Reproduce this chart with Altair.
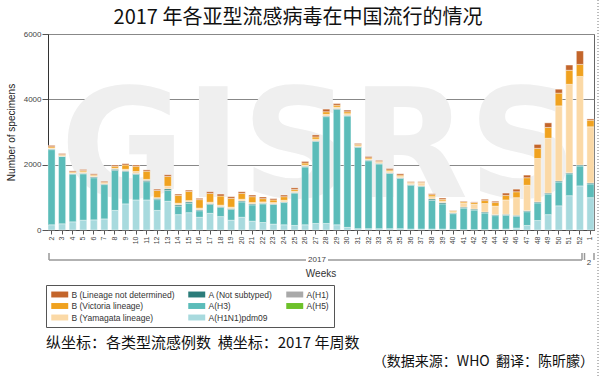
import altair as alt
import pandas as pd

weeks = ["2", "3", "4", "5", "6", "7", "8", "9", "10", "11", "12", "13", "14", "15",
         "16", "17", "18", "19", "20", "21", "22", "23", "24", "25", "26", "27", "28",
         "29", "30", "31", "32", "33", "34", "35", "36", "37", "38", "39", "40", "41",
         "42", "43", "44", "45", "46", "47", "48", "49", "50", "51", "52", "1"]

pdm09 = [160, 190, 250, 300, 310, 340, 600, 800, 920, 920, 600, 880, 470, 530,
         390, 510, 410, 300, 390, 270, 230, 180, 160, 140, 160, 200, 200,
         160, 80, 40, 40, 40, 40, 40, 30, 30, 30, 30, 20, 10,
         10, 10, 20, 30, 60, 140, 290, 470, 740, 1050, 1350, 990]
h3 = [2300, 2060, 1460, 1420, 1290, 1050, 1220, 990, 780, 560, 330, 330, 260, 290,
      200, 270, 280, 330, 470, 500, 570, 600, 680, 990, 1770, 2510, 3270,
      3530, 3410, 2490, 2080, 1980, 1690, 1540, 1340, 1300, 880, 770, 480, 660,
      600, 510, 420, 420, 360, 420, 540, 630, 730, 670, 610, 420]
a_notsub = [20, 10, 20, 20, 30, 20, 40, 30, 30, 40, 40, 50, 40, 40,
            30, 30, 30, 30, 30, 30, 20, 20, 20, 20, 20, 20, 20,
            30, 20, 20, 20, 20, 20, 20, 20, 20, 40, 40, 20, 30,
            30, 30, 30, 30, 30, 30, 30, 30, 30, 30, 30, 30]
b_yam = [30, 20, 20, 40, 30, 20, 30, 40, 60, 30, 20, 80, 50, 40,
         50, 40, 40, 40, 50, 40, 40, 40, 50, 40, 40, 50, 50,
         40, 50, 30, 30, 30, 50, 40, 40, 80, 70, 50, 40, 120,
         150, 260, 260, 440, 540, 780, 1330, 1680, 2300, 2710, 2710, 1720]
b_vic = [40, 30, 30, 40, 30, 30, 60, 130, 160, 250, 220, 300, 240, 280,
         260, 270, 280, 270, 180, 180, 100, 80, 110, 50, 60, 70, 80,
         60, 60, 40, 40, 30, 40, 40, 30, 30, 60, 50, 30, 40,
         50, 90, 110, 140, 180, 230, 310, 330, 390, 430, 370, 200]
b_undet = [40, 30, 30, 30, 30, 30, 40, 40, 40, 40, 40, 50, 40, 40,
           40, 50, 60, 50, 50, 50, 50, 40, 50, 50, 50, 60, 80,
           50, 50, 30, 40, 30, 40, 40, 20, 20, 30, 40, 10, 20,
           20, 40, 40, 70, 80, 80, 120, 140, 120, 160, 410, 40]

series = [
    ("A(H1N1)pdm09", pdm09),
    ("A(H3)", h3),
    ("A (Not subtyped)", a_notsub),
    ("B (Yamagata lineage)", b_yam),
    ("B (Victoria lineage)", b_vic),
    ("B (Lineage not determined)", b_undet),
]

rows = []
for k, (name, vals) in enumerate(series):
    for w, v in zip(weeks, vals):
        rows.append({"week": w, "type": name, "count": v, "k": k})
df = pd.DataFrame(rows)

legend_domain = ["B (Lineage not determined)", "B (Victoria lineage)", "B (Yamagata lineage)",
                 "A (Not subtyped)", "A(H3)", "A(H1N1)pdm09",
                 "A(H1)", "A(H5)"]
legend_range = ["#c3652b", "#f0a21f", "#fbd9a6",
                "#2b7c7a", "#5bbcb9", "#a8dade",
                "#a9a9a9", "#6dc12a"]

LAT = "Liberation Sans"
CJK = "Noto Sans CJK SC"
NB = "\u00a0"
dummy = pd.DataFrame({"a": [0]})


def txt(s, x, y, size, font, align="center", color="#222", weight="normal"):
    return alt.Chart(dummy).mark_text(
        text=s, align=align, baseline="middle", fontSize=size, font=font,
        color=color, fontWeight=weight
    ).encode(x=alt.value(x), y=alt.value(y))


def rule(x1, x2, y1, y2, color="#999", width=1.5, dash=None):
    kw = dict(color=color, strokeWidth=width)
    if dash:
        kw["strokeDash"] = dash
    return alt.Chart(dummy).mark_rule(**kw).encode(
        x=alt.value(x1), x2=alt.value(x2), y=alt.value(y1), y2=alt.value(y2))


watermark = alt.Chart(dummy).mark_text(
    text="GISRS", align="center", baseline="alphabetic", fontSize=152,
    font="DejaVu Sans", fontWeight="bold", color="#efefef"
).encode(x=alt.value(271), y=alt.value(163))

bars = alt.Chart(df).mark_bar(stroke="white", strokeWidth=0.4).encode(
    x=alt.X("week:N", sort=weeks,
            scale=alt.Scale(paddingInner=0.33, paddingOuter=0),
            axis=alt.Axis(title=None, labelAngle=270, labelFontSize=7, labelFont=LAT,
                          labelColor="#444", tickSize=4, tickColor="#555",
                          domainColor="#444", labelPadding=2, grid=False)),
    y=alt.Y("count:Q", stack="zero",
            scale=alt.Scale(domain=[0, 6000], nice=False),
            axis=alt.Axis(values=[0, 2000, 4000, 6000], format="d",
                          title="Number of specimens",
                          labelFontSize=8, labelFont=LAT, labelColor="#444",
                          tickSize=6, tickColor="#555", domainColor="#333",
                          labelPadding=1, gridColor="#888", gridWidth=1,
                          titleFont=LAT, titleFontSize=10, titleFontWeight="normal",
                          titleColor="#222", titlePadding=7)),
    color=alt.Color("type:N",
                    scale=alt.Scale(domain=legend_domain, range=legend_range),
                    legend=alt.Legend(
                        title=None, orient="none", legendX=-2, legendY=251,
                        columns=3, values=legend_domain,
                        symbolType="M-1,-0.7L3,-0.7L3,0.7L-1,0.7Z",
                        symbolSize=72, symbolStrokeWidth=0,
                        labelFontSize=8.5, labelFont=LAT, labelColor="#333",
                        labelOffset=11.5, columnPadding=13, rowPadding=2.5,
                        padding=5, strokeColor="#555", fillColor="white")),
    order=alt.Order("k:Q", sort="ascending"),
)

deco = [
    txt("2017 年各亚型流感病毒在中国流行的情况", 250, -16, 20, CJK, color="#111"),
    rule(1, 258, 226, 226),
    rule(280, 534, 226, 226),
    rule(1, 1, 219, 226),
    rule(534, 534, 219, 226),
    rule(536.5, 536.5, 219, 226),
    rule(546, 546, 219, 226),
    txt("2017", 269, 226, 8, LAT, color="#444"),
    txt("2", 541, 229, 8, LAT, color="#444"),
    txt("Weeks", 273, 240, 10, LAT, color="#333"),
    txt("纵坐标：各类型流感例数" + NB + NB + "横坐标：2017 年周数", -2, 309, 15, CJK,
        align="left", color="#111"),
    txt("（数据来源：WHO" + NB + NB + "翻译：陈昕朦）", 546, 328, 14, CJK,
        align="right", color="#111"),
    rule(550, 550, -34, 342, color="#777", width=1, dash=[1, 2]),
]

chart = alt.layer(watermark, bars, *deco).properties(
    width=546, height=196,
    padding={"left": 48, "top": 34, "right": 6, "bottom": 146},
    autosize=alt.AutoSizeParams(type="none"),
).configure_view(stroke="#666")

chart.save("out.html", embed_options={"renderer": "svg", "actions": False})
